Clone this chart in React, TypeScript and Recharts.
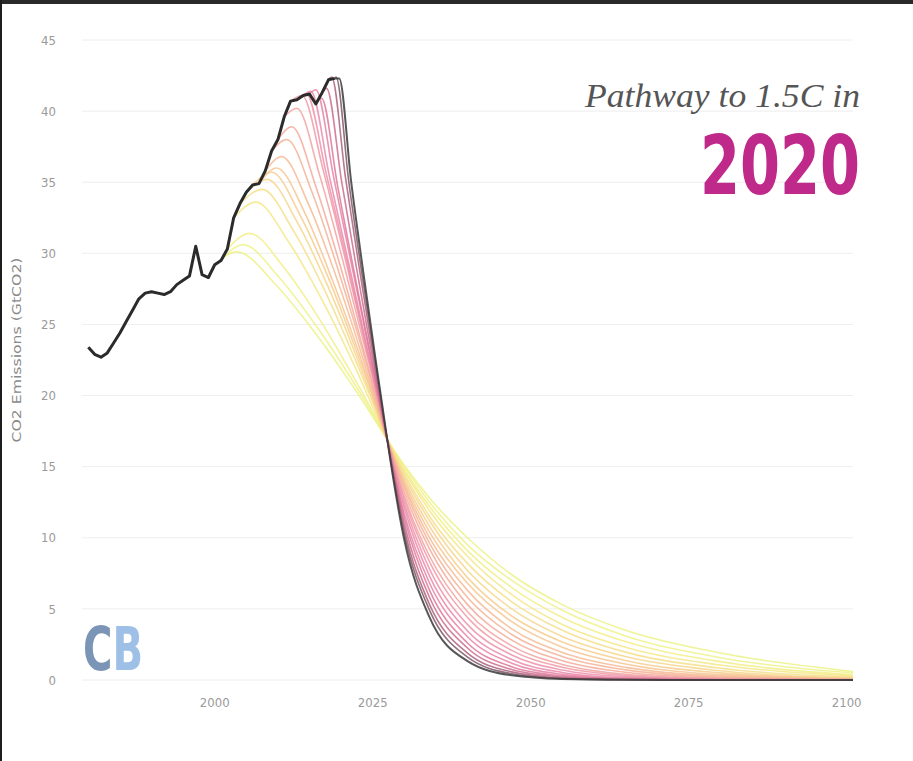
import React from 'react';
import { LineChart, Line, XAxis, YAxis, CartesianGrid } from 'recharts';

// Historical emissions (GtCO2)
const histYears = [
  1980, 1981, 1982, 1983, 1984, 1985, 1986, 1987, 1988, 1989,
  1990, 1991, 1992, 1993, 1994, 1995, 1996, 1997, 1998, 1999,
  2000, 2001, 2002, 2003, 2004, 2005, 2006, 2007, 2008, 2009,
  2010, 2011, 2012, 2013, 2014, 2015, 2016, 2017, 2018, 2019,
];
const histValues = [
  23.4, 22.9, 22.7, 23.0, 23.7, 24.4, 25.2, 26.0, 26.8, 27.2,
  27.3, 27.2, 27.1, 27.3, 27.8, 28.1, 28.4, 30.5, 28.5, 28.3,
  29.2, 29.5, 30.3, 32.5, 33.5, 34.3, 34.8, 34.9, 35.8, 37.2,
  38.0, 39.6, 40.7, 40.8, 41.1, 41.2, 40.5, 41.3, 42.2, 42.3,
];

// Pathway start years and their [year, value] points
const pathwayStarts = [
  2000, 2001, 2002, 2003, 2004, 2005, 2006, 2007, 2008, 2009, 2010,
  2011, 2012, 2013, 2014, 2015, 2016, 2017, 2018, 2019, 2020,
];
const pathwayPoints: number[][][] = [
  [[2000,29.2],[2003.5,30.1],[2009.45,27.9],[2015.4,24.7],[2021.35,21.0],[2024.9,18.6],[2027.3,16.9],[2030,15.1],[2034,12.8],[2040,10.0],[2047,7.4],[2055,5.3],[2065,3.5],[2080,1.9],[2101,0.6]],
  [[2001,29.5],[2004.5,30.6],[2010.2,28.3],[2015.9,25.0],[2021.6,21.2],[2025.0,18.7],[2027.3,16.9],[2030,15.0],[2034,12.5],[2040,9.5],[2047,7.0],[2055,4.9],[2065,3.1],[2080,1.57],[2101,0.5]],
  [[2002,30.3],[2005.5,31.4],[2010.95,29.0],[2016.4,25.5],[2021.85,21.4],[2025.1,18.8],[2027.3,16.9],[2030,14.8],[2034,12.2],[2040,9.1],[2047,6.5],[2055,4.4],[2065,2.7],[2080,1.29],[2101,0.37]],
  [[2003,32.5],[2006.5,33.6],[2011.7,30.8],[2016.9,26.8],[2022.1,22.1],[2025.2,19.0],[2027.3,16.9],[2030,14.7],[2034,11.9],[2040,8.7],[2047,6.0],[2055,3.9],[2065,2.3],[2080,1.05],[2101,0.28]],
  [[2004,33.5],[2007.5,34.5],[2012.45,31.6],[2017.4,27.4],[2022.35,22.4],[2025.3,19.2],[2027.3,16.9],[2030,14.5],[2034,11.5],[2040,8.2],[2047,5.5],[2055,3.5],[2065,1.96],[2080,0.83],[2101,0.2]],
  [[2005,34.3],[2008.3,35.2],[2013.05,32.2],[2017.8,27.8],[2022.55,22.6],[2025.4,19.2],[2027.3,16.9],[2030,14.3],[2034,11.2],[2040,7.7],[2047,5.0],[2055,3.06],[2065,1.65],[2080,0.65],[2101,0.14]],
  [[2006,34.8],[2009,35.7],[2013.6,32.6],[2018.15,28.1],[2022.7,22.8],[2025.5,19.3],[2027.3,16.9],[2030,14.1],[2034,10.8],[2040,7.2],[2047,4.5],[2055,2.67],[2065,1.37],[2080,0.5],[2101,0.1]],
  [[2007,34.9],[2009.8,36.0],[2014.2,32.9],[2018.55,28.2],[2022.9,22.9],[2025.55,19.3],[2027.3,16.9],[2030,13.9],[2034,10.4],[2040,6.8],[2047,4.1],[2055,2.3],[2065,1.12],[2080,0.38],[2101,0.08]],
  [[2008,35.8],[2010.6,36.8],[2014.8,33.5],[2018.95,28.7],[2023.1,23.1],[2025.6,19.4],[2027.3,16.9],[2030,13.7],[2034,10.0],[2040,6.3],[2047,3.6],[2055,1.94],[2065,0.89],[2080,0.28],[2101,0.05]],
  [[2009,37.2],[2011.4,38.0],[2015.4,34.3],[2019.35,29.1],[2023.3,23.3],[2025.7,19.5],[2027.3,16.9],[2030,13.5],[2034,9.6],[2040,5.8],[2047,3.2],[2055,1.65],[2065,0.71],[2080,0.2],[2101,0.03]],
  [[2010,38.0],[2012.2,38.9],[2016.0,34.7],[2019.75,29.3],[2023.5,23.3],[2025.8,19.5],[2027.3,16.9],[2030,13.2],[2034,9.2],[2040,5.3],[2047,2.8],[2055,1.36],[2065,0.55],[2080,0.14],[2101,0.02]],
  [[2011,39.6],[2013,40.2],[2016.6,35.5],[2020.15,29.7],[2023.7,23.5],[2025.9,19.6],[2027.3,16.9],[2030,12.9],[2034,8.7],[2040,4.8],[2047,2.4],[2055,1.09],[2065,0.4],[2080,0.09],[2101,0.01]],
  [[2012,40.7],[2013.8,41.1],[2017.2,35.8],[2020.55,29.8],[2023.9,23.5],[2025.95,19.5],[2027.3,16.9],[2030,12.7],[2034,8.3],[2040,4.4],[2047,2.08],[2055,0.89],[2065,0.31],[2080,0.06],[2101,0]],
  [[2013,40.8],[2014.5,41.2],[2017.7,35.5],[2020.9,29.5],[2024.1,23.2],[2026.0,19.5],[2027.3,16.9],[2030,12.4],[2034,7.8],[2040,3.9],[2047,1.76],[2055,0.7],[2065,0.22],[2080,0.04],[2101,0]],
  [[2014,41.1],[2015.2,41.4],[2018.2,35.3],[2021.25,29.2],[2024.3,23.0],[2026.1,19.4],[2027.3,16.9],[2030,12.1],[2034,7.3],[2040,3.45],[2047,1.44],[2055,0.53],[2065,0.15],[2080,0.02],[2101,0]],
  [[2015,41.2],[2016,41.5],[2018.8,35.4],[2021.65,29.2],[2024.5,23.1],[2026.15,19.4],[2027.3,16.9],[2030,11.7],[2034,6.8],[2040,3.04],[2047,1.18],[2055,0.4],[2065,0.1],[2080,0.01],[2101,0]],
  [[2016,40.5],[2016.9,40.9],[2019.5,34.6],[2022.1,28.6],[2024.7,22.7],[2026.25,19.2],[2027.3,16.9],[2030,11.4],[2034,6.3],[2040,2.6],[2047,0.93],[2055,0.29],[2065,0.07],[2080,0.01],[2101,0]],
  [[2017,41.3],[2017.7,41.6],[2020.1,35.0],[2022.5,28.8],[2024.9,22.8],[2026.35,19.2],[2027.3,16.9],[2030,11.0],[2034,5.8],[2040,2.25],[2047,0.74],[2055,0.21],[2065,0.04],[2080,0],[2101,0]],
  [[2018,42.2],[2018.5,42.4],[2020.7,35.3],[2022.9,28.9],[2025.1,22.8],[2026.4,19.2],[2027.3,16.9],[2030,10.6],[2034,5.3],[2040,1.89],[2047,0.57],[2055,0.14],[2065,0.03],[2080,0],[2101,0]],
  [[2019,42.3],[2019.2,42.4],[2021.2,35.1],[2023.25,28.7],[2025.3,22.7],[2026.5,19.2],[2027.3,16.9],[2030,10.25],[2034,4.9],[2040,1.61],[2047,0.44],[2055,0.1],[2065,0.02],[2080,0],[2101,0]],
  [[2019,42.3],[2019.7,42.3],[2021.6,35.0],[2023.5,28.7],[2025.4,22.7],[2026.55,19.2],[2027.3,16.9],[2030,9.85],[2034,4.4],[2040,1.33],[2047,0.33],[2055,0.07],[2065,0.01],[2080,0],[2101,0]],
];
const pathwayColors = [
  '#ecf286', '#eef28a', '#f2ee86', '#f4e886', '#f5df8a', '#f6d68c', '#f7cd8e',
  '#f7c490', '#f6bb94', '#f5b396', '#f4aa9a', '#f2a2a0', '#f09aa6', '#ee92aa',
  '#ea8aac', '#e682a4', '#de7898', '#cc6c8c', '#ac627c', '#7e5668', '#3a3a3a',
];

const xTicks = [2000, 2025, 2050, 2075, 2100];
const yTicks = [0, 5, 10, 15, 20, 25, 30, 35, 40, 45];

const histData = histYears.map((x, i) => ({ x, y: histValues[i] }));
const pathwayData = pathwayPoints.map((pts) => pts.map(([x, y]) => ({ x, y })));

const condensed = '"Liberation Sans Narrow", "DejaVu Sans Condensed", "Open Sans", sans-serif';

const tickFont = {
  fill: '#9a9a9a',
  fontSize: 13,
  fontFamily: condensed,
};

export default function App() {
  return (
    <div
      style={{
        position: 'fixed',
        left: 0,
        top: 0,
        width: 913,
        height: 761,
        background: '#ffffff',
        overflow: 'hidden',
      }}
    >
      <LineChart width={913} height={761} margin={{ top: 40, right: 60, bottom: 51, left: 22 }}>
        <CartesianGrid vertical={false} stroke="#eeeeee" />
        <XAxis
          type="number"
          dataKey="x"
          domain={[1979, 2101]}
          ticks={xTicks}
          tickLine={false}
          axisLine={false}
          tick={tickFont}
          tickMargin={12}
          height={30}
          allowDataOverflow
        />
        <YAxis
          type="number"
          domain={[0, 45]}
          ticks={yTicks}
          tickLine={false}
          axisLine={false}
          width={60}
          tickMargin={20}
          tick={tickFont}
        />
        {pathwayData.map((d, i) => (
          <Line
            key={pathwayStarts[i]}
            data={d}
            dataKey="y"
            type="monotone"
            stroke={pathwayColors[i]}
            strokeWidth={i === 20 ? 2 : 1.6}
            strokeOpacity={0.85}
            dot={false}
            activeDot={false}
            isAnimationActive={false}
          />
        ))}
        <Line
          data={histData}
          dataKey="y"
          type="linear"
          stroke="#2b2b2b"
          strokeWidth={3}
          strokeLinejoin="round"
          dot={false}
          activeDot={false}
          isAnimationActive={false}
        />
      </LineChart>
      <svg
        width={913}
        height={761}
        style={{ position: 'absolute', left: 0, top: 0, pointerEvents: 'none' }}
      >
        <defs>
          <linearGradient id="cbLogo" x1="0" y1="0" x2="1" y2="0">
            <stop offset="0" stopColor="#7a95b5" />
            <stop offset="0.5" stopColor="#7a95b5" />
            <stop offset="0.5" stopColor="#9ec0e6" />
            <stop offset="1" stopColor="#9ec0e6" />
          </linearGradient>
        </defs>
        <rect x={0} y={0} width={913} height={4} fill="#2a2a2a" />
        <rect x={0} y={0} width={2} height={761} fill="#1e1e1e" />
        <text
          x={17}
          y={350}
          transform="rotate(-90 17 350)"
          textAnchor="middle"
          dominantBaseline="middle"
          fill="#8a8a8a"
          fontSize={13}
          fontFamily={condensed}
          textLength={185}
          lengthAdjust="spacingAndGlyphs"
        >
          CO2 Emissions (GtCO2)
        </text>
        <text
          x={585}
          y={107}
          fill="#555555"
          fontSize={33}
          fontStyle="italic"
          fontFamily='"Liberation Serif", "DejaVu Serif", serif'
          textLength={275}
          lengthAdjust="spacingAndGlyphs"
        >
          Pathway to 1.5C in
        </text>
        <text
          x={700}
          y={194}
          fill="#bf2a8a"
          fontSize={82}
          fontWeight="bold"
          fontFamily={condensed}
          textLength={160}
          lengthAdjust="spacingAndGlyphs"
        >
          2020
        </text>
        <text
          x={83}
          y={670}
          fill="url(#cbLogo)"
          fontSize={60}
          fontWeight="bold"
          fontFamily={condensed}
          textLength={60}
          lengthAdjust="spacingAndGlyphs"
        >
          CB
        </text>
      </svg>
    </div>
  );
}
